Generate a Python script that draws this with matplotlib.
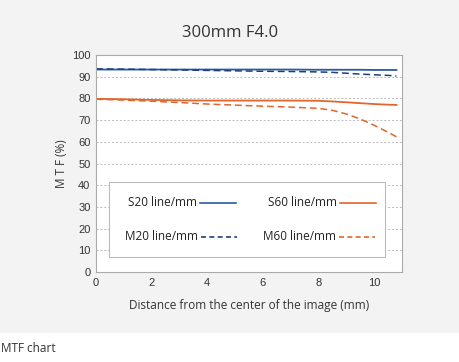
import numpy as np
import matplotlib.pyplot as plt
from matplotlib.lines import Line2D
from matplotlib.patches import Rectangle

plt.rcParams['font.family'] = ['Open Sans', 'DejaVu Sans']

x = [0, 1, 2, 3, 4, 5, 6, 7, 8, 8.5, 9, 9.5, 10, 10.5, 10.8]
s20 = [93.3, 93.3, 93.3, 93.3, 93.3, 93.3, 93.3, 93.3, 93.2, 93.2, 93.2, 93.2, 93.1, 93.1, 93.1]
m20 = [93.6, 93.5, 93.3, 93.1, 92.9, 92.7, 92.5, 92.4, 92.2, 92.0, 91.6, 91.2, 90.9, 90.6, 90.3]
s60 = [79.8, 79.6, 79.3, 79.1, 79.0, 79.0, 79.0, 79.0, 78.9, 78.6, 78.2, 77.8, 77.4, 77.1, 77.0]
m60 = [79.6, 79.2, 78.7, 78.1, 77.4, 76.9, 76.4, 76.0, 75.4, 74.5, 72.8, 70.5, 67.6, 64.4, 62.3]

blue = '#2a5aa0'
dblue = '#1d3f7e'
orange = '#e2662a'
txt = '#333333'

W, H = 460, 362
fig = plt.figure(figsize=(4.6, 3.62), dpi=100)
fig.patch.set_facecolor('white')
fig.add_artist(Rectangle((0, (H - 333) / H), 1, 333 / H, transform=fig.transFigure,
                         facecolor='#f3f3f3', edgecolor='none', zorder=0))

ax = fig.add_axes([96 / W, 1 - 272 / H, (402 - 96) / W, (272 - 55) / H])
ax.set_facecolor('white')
ax.plot(x, s20, color=blue, lw=1.3)
ax.plot(x, m20, color=dblue, lw=1.1, ls=(0, (4.5, 2.5)))
ax.plot(x, s60, color=orange, lw=1.3)
ax.plot(x, m60, color=orange, lw=1.1, ls=(0, (4.5, 2.5)))

ax.set_xlim(0, 11)
ax.set_ylim(0, 100)
ax.set_xticks(range(0, 11, 2))
ax.set_yticks(range(0, 101, 10))
ax.tick_params(length=0, labelsize=8, colors=txt, pad=4)
for lab in ax.get_xticklabels() + ax.get_yticklabels():
    lab.set_family(['Liberation Sans', 'DejaVu Sans'])
ax.yaxis.grid(True, color='#bbbbbb', ls=(0, (2, 2)), lw=0.7)
for s in ax.spines.values():
    s.set_color('#aaaaaa')
    s.set_linewidth(0.8)

ax.set_xlabel('Distance from the center of the image (mm)', fontsize=8.5, color=txt, labelpad=8)
ax.set_ylabel('M T F (%)', fontsize=8.5, color=txt, labelpad=3)
fig.text(230 / W, 1 - 33 / H, '300mm F4.0', ha='center', va='center', fontsize=12, color=txt)
fig.text(1 / W, 1 - 349 / H, 'MTF chart', ha='left', va='center', fontsize=8.5, color=txt)

# legend box
tf = fig.transFigure
fig.add_artist(Rectangle((109 / W, 1 - 257 / H), (385 - 109) / W, (257 - 182) / H, transform=tf,
                         facecolor='white', edgecolor='#bbbbbb', lw=0.8, zorder=3))
entries = [('S20 line/mm', 197, 203, blue, '-'), ('S60 line/mm', 337, 203, orange, '-'),
           ('M20 line/mm', 198, 237, dblue, (0, (3, 2))), ('M60 line/mm', 336, 237, orange, (0, (3, 2)))]
for label, xe, yy, c, ls in entries:
    fig.text(xe / W, 1 - yy / H, label, ha='right', va='center', fontsize=8.5, color='#222222', zorder=4)
    fig.add_artist(Line2D([(xe + 3) / W, (xe + 39) / W], [1 - yy / H, 1 - yy / H], transform=tf,
                          color=c, lw=1.2, ls=ls, zorder=4))

fig.savefig('out.png', dpi=100)
